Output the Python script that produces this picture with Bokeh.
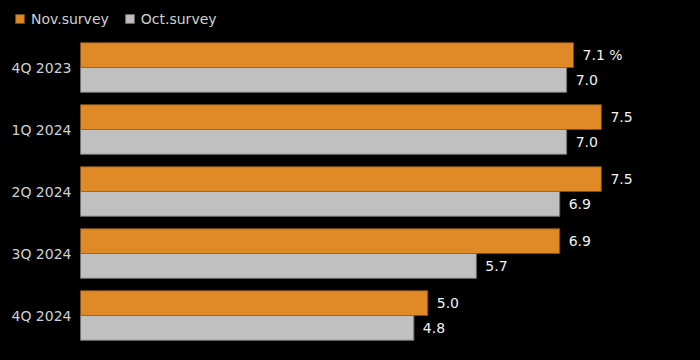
from bokeh.plotting import figure
from bokeh.models import ColumnDataSource, Range1d, Legend, LegendItem
from bokeh.transform import dodge
from bokeh.embed import file_html
from bokeh.resources import INLINE
from bokeh.core.properties import value

quarters = ["4Q 2023", "1Q 2024", "2Q 2024", "3Q 2024", "4Q 2024"]
nov_survey = [7.1, 7.5, 7.5, 6.9, 5.0]
oct_survey = [7.0, 7.0, 6.9, 5.7, 4.8]
unit = "%"

nov_labels = [f"{v:.1f}" for v in nov_survey]
nov_labels[0] = nov_labels[0] + " " + unit
oct_labels = [f"{v:.1f}" for v in oct_survey]
positions = list(range(len(quarters)))  # category slots, top to bottom
zeros = [0] * len(quarters)

src = ColumnDataSource(dict(q=quarters, pos=positions, base=zeros,
                            nov=nov_survey, oct=oct_survey,
                            nov_lbl=nov_labels, oct_lbl=oct_labels))

FONT = "DejaVu Sans"
ORANGE = "#df8a27"
GREY = "#c0c0c0"

PX_PER_UNIT = 69.45
PX_PER_SLOT = 62.0
p = figure(width=700, height=360, output_backend="svg", toolbar_location=None,
           x_axis_location=None, y_axis_location=None,
           x_range=Range1d(-80 / PX_PER_UNIT, 620 / PX_PER_UNIT),
           y_range=Range1d(len(quarters) - 1 + 45 / PX_PER_SLOT, -67 / PX_PER_SLOT),
           min_border=0,
           background_fill_color="black", border_fill_color="black")
p.outline_line_color = None
p.grid.visible = False

bh = 0.4
r1 = p.hbar(y=dodge("pos", -bh / 2), right="nov", left=0, height=bh,
            source=src, fill_color=ORANGE, line_color="#7a4e18", line_width=1)
r2 = p.hbar(y=dodge("pos", bh / 2), right="oct", left=0, height=bh,
            source=src, fill_color=GREY, line_color="#707070", line_width=1)

p.text(x="nov", y=dodge("pos", -bh / 2), text="nov_lbl", source=src,
       x_offset=9, text_baseline="middle", text_color="#f2f2f2",
       text_font=value(FONT), text_font_size="14px")
p.text(x="oct", y=dodge("pos", bh / 2), text="oct_lbl", source=src,
       x_offset=9, text_baseline="middle", text_color="#f2f2f2",
       text_font=value(FONT), text_font_size="14px")

# category labels (y-axis style) to the left of the bars
p.text(x="base", y="pos", text="q", source=src,
       x_offset=-9, text_align="right", text_baseline="middle",
       text_color="#d0d0d0", text_font=value(FONT), text_font_size="14px")

legend = Legend(items=[LegendItem(label="Nov.survey", renderers=[r1]),
                       LegendItem(label="Oct.survey", renderers=[r2])],
                orientation="horizontal", location=(14, 333.5),
                glyph_width=11, glyph_height=11, label_height=16,
                label_standoff=6, spacing=15, padding=0, margin=0,
                border_line_color=None, background_fill_alpha=0,
                label_text_color="#d0d0d0", label_text_font=FONT,
                label_text_font_size="14px")
p.add_layout(legend, "center")

html = file_html(p, INLINE)
html = html.replace("<head>", "<head><style>html,body{background:#000;}</style>", 1)
open("out.html", "w").write(html)
